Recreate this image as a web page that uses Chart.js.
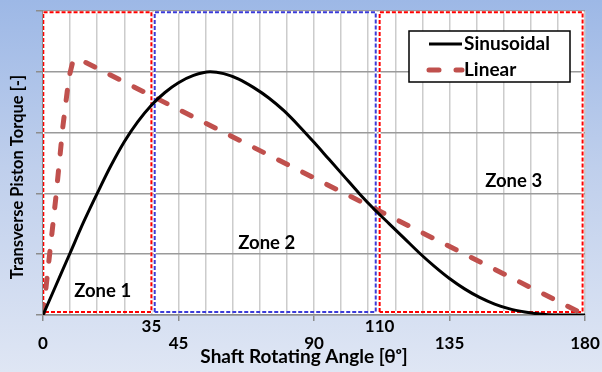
<!DOCTYPE html>
<html>
<head>
<meta charset="utf-8">
<script src="https://cdn.jsdelivr.net/npm/chart.js@4"></script>
<style>
  html, body { margin: 0; padding: 0; }
  body { width: 602px; height: 372px; background: linear-gradient(to bottom, #9db8e6 0%, #bfcfec 45%, #dfe6f4 100%); }
  canvas { display: block; }
</style>
</head>
<body>
<canvas id="grafico" width="602" height="372"></canvas>
<script>
// DADOS
const sinAngles = [0, 4.5, 9, 13.5, 18, 22.5, 27, 31.5, 36, 40.5, 45, 50, 55.5, 60, 65, 70, 75, 80, 85, 90, 95, 100, 105, 110, 115, 120, 125, 130, 135, 140, 145, 150, 155, 160, 165, 170, 180]
const sinTorque = [0, 0.51, 1.02, 1.53, 2.0, 2.45, 2.85, 3.18, 3.45, 3.66, 3.82, 3.94, 4.0, 3.97, 3.88, 3.74, 3.57, 3.36, 3.11, 2.84, 2.56, 2.28, 2.0, 1.74, 1.5, 1.26, 1.02, 0.8, 0.6, 0.43, 0.29, 0.18, 0.1, 0.05, 0.015, 0, 0]
const linAngles = [0, 2.2, 4.2, 6.6, 8.6, 9.8, 11.5, 180]
const linTorque = [0, 1.0, 1.9, 3.1, 3.9, 4.15, 4.22, 0]

const xTickLabels = [0, 45, 90, 135, 180]
const boundaryLabels = ['35', '110']

const zoneNames = ['Zone 1', 'Zone 2', 'Zone 3']
const zoneStart = [0.1, 37.1, 111.8]
const zoneEnd = [36.0, 110.5, 179.2]
const zoneBottom = [0.05, 0.05, 0.05]
const zoneTop = [4.98, 4.98, 4.98]
const zoneLabelX = [19.8, 74.3, 156.3]
const zoneLabelY = [0.39, 1.18, 2.2]

const familia = "Lato, 'Open Sans', sans-serif"
const coresZona = ['#ff0000', '#3b3bd8', '#ff0000']

const pontos = (xs, ys) => xs.map((x, i) => ({ x: x, y: ys[i] }))

// caixas das zonas como linhas fechadas
const caixa = (i) => [
    { x: zoneStart[i], y: zoneBottom[i] },
    { x: zoneStart[i], y: zoneTop[i] },
    { x: zoneEnd[i], y: zoneTop[i] },
    { x: zoneEnd[i], y: zoneBottom[i] },
    { x: zoneStart[i], y: zoneBottom[i] }
]

const datasetsZonas = []
zoneNames.forEach((nome, i) => {
    datasetsZonas.push({
        label: nome + ' fundo',
        data: caixa(i),
        borderColor: '#ffffff',
        borderWidth: 2,
        pointRadius: 0,
        tension: 0,
        order: 20
    })
    datasetsZonas.push({
        label: nome,
        data: caixa(i),
        borderColor: coresZona[i],
        borderWidth: 2,
        borderDash: [4, 2],
        pointRadius: 0,
        tension: 0,
        order: 10
    })
})

// PLUGINS
const fundoArea = {
    id: 'fundoArea',
    beforeDraw(chart) {
        const { ctx, chartArea: a } = chart
        ctx.save()
        ctx.fillStyle = '#ffffff'
        ctx.fillRect(a.left, a.top, a.right - a.left, a.bottom - a.top)
        ctx.restore()
    }
}

const textos = {
    id: 'textos',
    afterDraw(chart) {
        const { ctx, chartArea: a, scales: { x, y } } = chart
        ctx.save()
        ctx.fillStyle = '#000'
        ctx.textAlign = 'center'
        ctx.textBaseline = 'middle'

        // rótulos das zonas
        ctx.font = 'bold 18.5px ' + familia
        zoneNames.forEach((nome, i) => {
            ctx.fillText(nome, x.getPixelForValue(zoneLabelX[i]), y.getPixelForValue(zoneLabelY[i]))
        })

        // rótulos extras 35 e 110 nas fronteiras
        ctx.font = 'bold 17px ' + familia
        ctx.fillText(boundaryLabels[0], x.getPixelForValue(zoneEnd[0]), a.bottom + 12)
        ctx.fillText(boundaryLabels[1], x.getPixelForValue(zoneStart[2]), a.bottom + 12)

        // títulos dos eixos
        ctx.font = 'bold 19px ' + familia
        ctx.fillText('Shaft Rotating Angle [θᵒ]', (a.left + a.right) / 2 - 10, a.bottom + 42)
        ctx.save()
        ctx.font = 'bold 16.5px ' + familia
        ctx.translate(18, (a.top + a.bottom) / 2 + 14)
        ctx.rotate(-Math.PI / 2)
        ctx.fillText('Transverse Piston Torque [-]', 0, 0)
        ctx.restore()

        // legenda
        const lx = a.right - 176, ly = a.top + 20, lw = 161, lh = 51
        ctx.fillStyle = '#fff'
        ctx.fillRect(lx, ly, lw, lh)
        ctx.strokeStyle = '#000'
        ctx.lineWidth = 1.5
        ctx.strokeRect(lx, ly, lw, lh)

        ctx.font = 'bold 19px ' + familia
        const series = chart.data.datasets.slice(0, 2)
        series.forEach((ds, i) => {
            const yy = ly + 13 + i * 26
            ctx.beginPath()
            ctx.strokeStyle = ds.borderColor
            ctx.lineWidth = ds.borderWidth
            ctx.lineCap = ds.borderCapStyle || 'butt'
            ctx.setLineDash(ds.borderDash || [])
            ctx.moveTo(lx + 20, yy)
            ctx.lineTo(lx + 53, yy)
            ctx.stroke()
            ctx.setLineDash([])
            ctx.fillStyle = '#000'
            ctx.textAlign = 'left'
            ctx.fillText(ds.label, lx + 55, yy)
        })
        ctx.restore()
    }
}

// CONFIG
const config = {
    type: 'line',
    data: {
        datasets: [
            {
                label: 'Sinusoidal',
                data: pontos(sinAngles, sinTorque),
                borderColor: '#000000',
                borderWidth: 3,
                pointRadius: 0,
                cubicInterpolationMode: 'monotone',
                order: 1
            },
            {
                label: 'Linear',
                data: pontos(linAngles, linTorque),
                borderColor: '#c0504d',
                borderWidth: 5,
                borderDash: [10, 17],
                borderCapStyle: 'round',
                pointRadius: 0,
                tension: 0,
                order: 2
            },
            ...datasetsZonas
        ]
    },
    options: {
        responsive: false,
        devicePixelRatio: 1,
        animation: false,
        layout: {
            padding: { top: 11, right: 17, left: 0, bottom: 0 }
        },
        plugins: {
            legend: { display: false },
            tooltip: { enabled: false }
        },
        scales: {
            x: {
                type: 'linear',
                min: 0,
                max: 180,
                afterFit: (s) => { s.height = 57; s.paddingLeft = 0; s.paddingRight = 0 },
                ticks: {
                    stepSize: 9,
                    autoSkip: false,
                    maxRotation: 0,
                    padding: 12,
                    color: '#000',
                    font: { family: familia, size: 17, weight: 'bold' },
                    callback: (v) => xTickLabels.includes(v) ? v : ''
                },
                grid: {
                    color: '#cccccc',
                    lineWidth: 1.5,
                    tickLength: 6,
                    tickColor: (c) => c.tick && xTickLabels.includes(c.tick.value) ? '#8c8c8c' : 'rgba(0,0,0,0)'
                },
                border: { color: '#8c8c8c', width: 1.5 }
            },
            y: {
                min: 0,
                max: 5,
                afterFit: (s) => { s.width = 43; s.paddingTop = 0; s.paddingBottom = 0 },
                ticks: {
                    stepSize: 1,
                    callback: () => ''
                },
                grid: {
                    color: '#9a9a9a',
                    lineWidth: 1.5,
                    tickLength: 7,
                    tickColor: '#8c8c8c'
                },
                border: { color: '#8c8c8c', width: 1.5 }
            }
        }
    },
    plugins: [fundoArea, textos]
}

// RENDER
const grafico = new Chart(document.getElementById('grafico'), config)
</script>
</body>
</html>
